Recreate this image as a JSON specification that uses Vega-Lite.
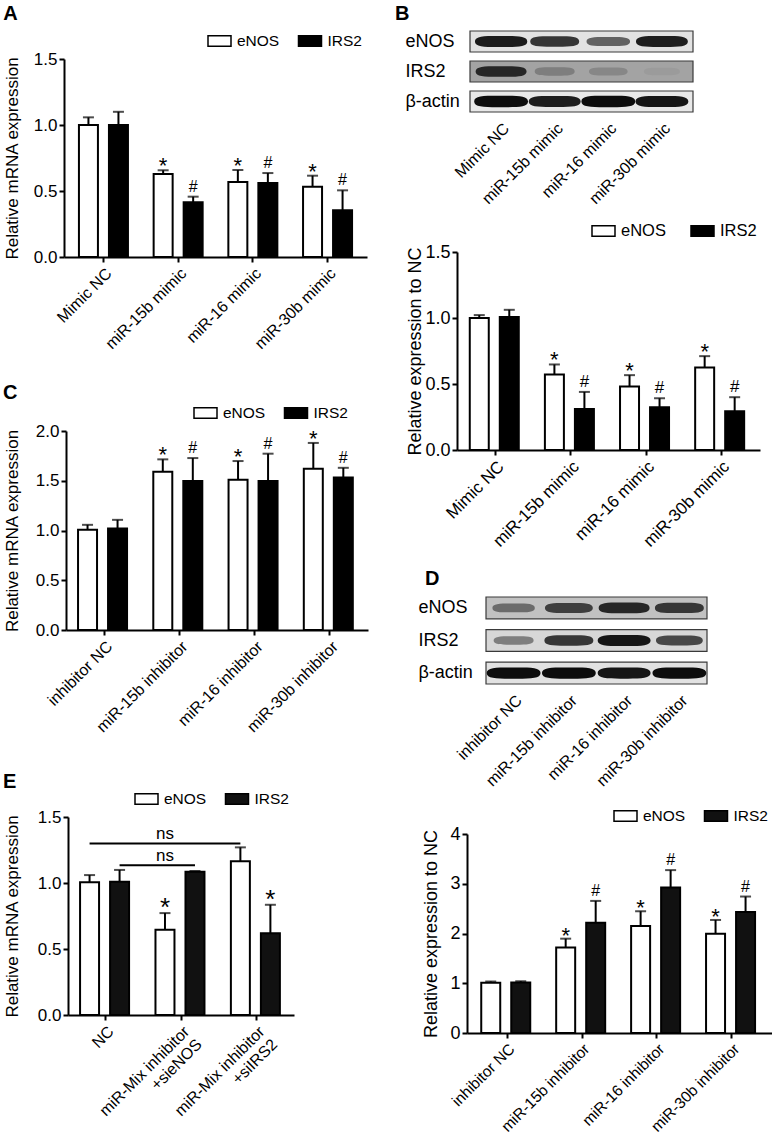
{
  "$schema": "https://vega.github.io/schema/vega-lite/v6.json",
  "background": "white",
  "padding": {"left": 2, "top": 3, "right": 0, "bottom": 0},
  "config": {
    "font": "Liberation Sans",
    "view": {"stroke": null},
    "axis": {"domainColor": "black", "domainWidth": 2, "tickColor": "black", "tickWidth": 2, "tickSize": 5, "labelColor": "black", "titleColor": "black", "grid": false, "labelFont": "Liberation Sans", "titleFont": "Liberation Sans", "titleFontWeight": "normal", "labelFontSize": 17, "titleFontSize": 17, "labelPadding": 2},
    "title": {"font": "Liberation Sans", "fontSize": 20, "fontWeight": "bold", "color": "black", "anchor": "start", "frame": "bounds", "baseline": "alphabetic"},
    "legend": {"symbolType": "M-1,-0.45L1,-0.45L1,0.45L-1,0.45Z", "symbolSize": 529, "labelFontSize": 15.5, "labelFont": "Liberation Sans", "labelColor": "black", "labelOffset": 5, "padding": 0, "symbolStrokeColor": "black", "symbolStrokeWidth": 1.5, "direction": "horizontal", "columnPadding": 15.5, "symbolOpacity": 1}
  },
  "datasets": {
    "A": [
      {"group": "Mimic NC", "gene": "eNOS", "value": 1.0, "err": 1.058, "sig": ""},
      {"group": "Mimic NC", "gene": "IRS2", "value": 1.0, "err": 1.1, "sig": ""},
      {"group": "miR-15b mimic", "gene": "eNOS", "value": 0.629, "err": 0.657, "sig": "*"},
      {"group": "miR-15b mimic", "gene": "IRS2", "value": 0.414, "err": 0.457, "sig": "#"},
      {"group": "miR-16 mimic", "gene": "eNOS", "value": 0.568, "err": 0.659, "sig": "*"},
      {"group": "miR-16 mimic", "gene": "IRS2", "value": 0.56, "err": 0.636, "sig": "#"},
      {"group": "miR-30b mimic", "gene": "eNOS", "value": 0.533, "err": 0.616, "sig": "*"},
      {"group": "miR-30b mimic", "gene": "IRS2", "value": 0.354, "err": 0.505, "sig": "#"}
    ],
    "B": [
      {"group": "Mimic NC", "gene": "eNOS", "value": 1.0, "err": 1.022, "sig": ""},
      {"group": "Mimic NC", "gene": "IRS2", "value": 1.007, "err": 1.062, "sig": ""},
      {"group": "miR-15b mimic", "gene": "eNOS", "value": 0.572, "err": 0.648, "sig": "*"},
      {"group": "miR-15b mimic", "gene": "IRS2", "value": 0.311, "err": 0.44, "sig": "#"},
      {"group": "miR-16 mimic", "gene": "eNOS", "value": 0.481, "err": 0.567, "sig": "*"},
      {"group": "miR-16 mimic", "gene": "IRS2", "value": 0.324, "err": 0.392, "sig": "#"},
      {"group": "miR-30b mimic", "gene": "eNOS", "value": 0.625, "err": 0.711, "sig": "*"},
      {"group": "miR-30b mimic", "gene": "IRS2", "value": 0.293, "err": 0.4, "sig": "#"}
    ],
    "C": [
      {"group": "inhibitor NC", "gene": "eNOS", "value": 1.007, "err": 1.057, "sig": ""},
      {"group": "inhibitor NC", "gene": "IRS2", "value": 1.02, "err": 1.107, "sig": ""},
      {"group": "miR-15b inhibitor", "gene": "eNOS", "value": 1.59, "err": 1.715, "sig": "*"},
      {"group": "miR-15b inhibitor", "gene": "IRS2", "value": 1.497, "err": 1.728, "sig": "#"},
      {"group": "miR-16 inhibitor", "gene": "eNOS", "value": 1.51, "err": 1.698, "sig": "*"},
      {"group": "miR-16 inhibitor", "gene": "IRS2", "value": 1.497, "err": 1.772, "sig": "#"},
      {"group": "miR-30b inhibitor", "gene": "eNOS", "value": 1.62, "err": 1.88, "sig": "*"},
      {"group": "miR-30b inhibitor", "gene": "IRS2", "value": 1.533, "err": 1.63, "sig": "#"}
    ],
    "D": [
      {"group": "inhibitor NC", "gene": "eNOS", "value": 1.008, "err": 1.035, "sig": ""},
      {"group": "inhibitor NC", "gene": "IRS2", "value": 1.015, "err": 1.04, "sig": ""},
      {"group": "miR-15b inhibitor", "gene": "eNOS", "value": 1.72, "err": 1.896, "sig": "*"},
      {"group": "miR-15b inhibitor", "gene": "IRS2", "value": 2.218, "err": 2.655, "sig": "#"},
      {"group": "miR-16 inhibitor", "gene": "eNOS", "value": 2.151, "err": 2.447, "sig": "*"},
      {"group": "miR-16 inhibitor", "gene": "IRS2", "value": 2.924, "err": 3.274, "sig": "#"},
      {"group": "miR-30b inhibitor", "gene": "eNOS", "value": 1.997, "err": 2.272, "sig": "*"},
      {"group": "miR-30b inhibitor", "gene": "IRS2", "value": 2.434, "err": 2.743, "sig": "#"}
    ],
    "E": [
      {"group": "NC", "gene": "eNOS", "value": 1.005, "err": 1.06, "sig": ""},
      {"group": "NC", "gene": "IRS2", "value": 1.01, "err": 1.099, "sig": ""},
      {"group": "miR-Mix inhibitor +sieNOS", "gene": "eNOS", "value": 0.646, "err": 0.772, "sig": "*"},
      {"group": "miR-Mix inhibitor +sieNOS", "gene": "IRS2", "value": 1.086, "err": 1.091, "sig": ""},
      {"group": "miR-Mix inhibitor +siIRS2", "gene": "eNOS", "value": 1.165, "err": 1.27, "sig": ""},
      {"group": "miR-Mix inhibitor +siIRS2", "gene": "IRS2", "value": 0.62, "err": 0.835, "sig": "*"}
    ],
    "Ens": [
      {"line": 1, "group": "NC", "gene": "eNOS", "level": 1.3},
      {"line": 1, "group": "miR-Mix inhibitor +siIRS2", "gene": "eNOS", "level": 1.3},
      {"line": 2, "group": "NC", "gene": "IRS2", "level": 1.135},
      {"line": 2, "group": "miR-Mix inhibitor +sieNOS", "gene": "IRS2", "level": 1.135}
    ],
    "Enstext": [
      {"group": "miR-Mix inhibitor +sieNOS", "gene": "eNOS", "level": 1.3, "label": "ns"},
      {"group": "miR-Mix inhibitor +sieNOS", "gene": "eNOS", "level": 1.135, "label": "ns"}
    ],
    "Brows": [
      {"protein": "eNOS", "bg": 0.1},
      {"protein": "IRS2", "bg": 0.33},
      {"protein": "β-actin", "bg": 0.08}
    ],
    "Bblot": [
      {"protein": "eNOS", "lane": "Mimic NC", "intensity": 0.92},
      {"protein": "eNOS", "lane": "miR-15b mimic", "intensity": 0.75},
      {"protein": "eNOS", "lane": "miR-16 mimic", "intensity": 0.5},
      {"protein": "eNOS", "lane": "miR-30b mimic", "intensity": 0.9},
      {"protein": "IRS2", "lane": "Mimic NC", "intensity": 0.85},
      {"protein": "IRS2", "lane": "miR-15b mimic", "intensity": 0.35},
      {"protein": "IRS2", "lane": "miR-16 mimic", "intensity": 0.3},
      {"protein": "IRS2", "lane": "miR-30b mimic", "intensity": 0.2},
      {"protein": "β-actin", "lane": "Mimic NC", "intensity": 1.0},
      {"protein": "β-actin", "lane": "miR-15b mimic", "intensity": 0.9},
      {"protein": "β-actin", "lane": "miR-16 mimic", "intensity": 1.0},
      {"protein": "β-actin", "lane": "miR-30b mimic", "intensity": 0.95}
    ],
    "Drows": [
      {"protein": "eNOS", "bg": 0.22},
      {"protein": "IRS2", "bg": 0.14},
      {"protein": "β-actin", "bg": 0.1}
    ],
    "Dblot": [
      {"protein": "eNOS", "lane": "inhibitor NC", "intensity": 0.45},
      {"protein": "eNOS", "lane": "miR-15b inhibitor", "intensity": 0.7},
      {"protein": "eNOS", "lane": "miR-16 inhibitor", "intensity": 0.85},
      {"protein": "eNOS", "lane": "miR-30b inhibitor", "intensity": 0.75},
      {"protein": "IRS2", "lane": "inhibitor NC", "intensity": 0.35},
      {"protein": "IRS2", "lane": "miR-15b inhibitor", "intensity": 0.75},
      {"protein": "IRS2", "lane": "miR-16 inhibitor", "intensity": 0.95},
      {"protein": "IRS2", "lane": "miR-30b inhibitor", "intensity": 0.65},
      {"protein": "β-actin", "lane": "inhibitor NC", "intensity": 1.0},
      {"protein": "β-actin", "lane": "miR-15b inhibitor", "intensity": 1.0},
      {"protein": "β-actin", "lane": "miR-16 inhibitor", "intensity": 0.95},
      {"protein": "β-actin", "lane": "miR-30b inhibitor", "intensity": 1.0}
    ],
    "empty": []
  },
  "concat": [
    {
      "vconcat": [
        {"vconcat": [
          {"width": 1, "height": 1, "data": {"name": "empty"}, "mark": "point"},
          {"hconcat": [
            {"width": 1, "height": 1, "data": {"name": "empty"}, "mark": "point"},
            {
              "data": {"name": "A"},
              "width": 303, "height": 198,
              "title": {"text": "A", "offset": 4.5},
              "encoding": {
                "x": {"field": "group", "type": "nominal", "sort": ["Mimic NC", "miR-15b mimic", "miR-16 mimic", "miR-30b mimic"], "scale": {"paddingInner": 0.344, "paddingOuter": 0.2}, "axis": {"title": null, "labelAngle": -45, "labelFontSize": 16, "labelPadding": 3, "minExtent": 126}},
                "xOffset": {"field": "gene", "type": "nominal", "sort": ["eNOS", "IRS2"], "scale": {"paddingInner": 0.367, "paddingOuter": 0}}
              },
              "layer": [
                {"mark": {"type": "bar", "stroke": "black", "strokeWidth": 2},
                 "encoding": {
                   "y": {"field": "value", "type": "quantitative", "scale": {"domain": [0, 1.5], "nice": false}, "axis": {"title": "Relative mRNA expression", "values": [0, 0.5, 1, 1.5], "format": ".1f", "minExtent": 30, "titlePadding": 12}},
                   "fill": {"field": "gene", "type": "nominal", "sort": ["eNOS", "IRS2"], "scale": {"domain": ["eNOS", "IRS2"], "range": ["#ffffff", "#000000"]}, "legend": {"title": null, "orient": "none", "legendX": 143, "legendY": -30.5, "encode": {"symbols": {"update": {"stroke": {"value": "black"}, "strokeWidth": {"value": 1.5}}}}}}
                 }},
                {"mark": {"type": "rule", "color": "black", "strokeWidth": 2}, "encoding": {"y": {"field": "value", "type": "quantitative"}, "y2": {"field": "err"}}},
                {"mark": {"type": "tick", "color": "black", "size": 11, "thickness": 2}, "encoding": {"y": {"field": "err", "type": "quantitative"}}},
                {"transform": [{"filter": "datum.sig == '*'"}], "mark": {"type": "text", "fontSize": 22, "baseline": "alphabetic", "dy": 3, "color": "black"}, "encoding": {"y": {"field": "err", "type": "quantitative"}, "text": {"field": "sig"}}},
                {"transform": [{"filter": "datum.sig == '#'"}], "mark": {"type": "text", "fontSize": 16, "baseline": "alphabetic", "dy": -5, "color": "black"}, "encoding": {"y": {"field": "err", "type": "quantitative"}, "text": {"field": "sig"}}}
              ]
            }
          ], "spacing": 0, "resolve": {"scale": {"fill": "independent", "size": "independent"}, "legend": {"fill": "independent", "size": "independent"}}}
        ], "spacing": 0, "resolve": {"scale": {"fill": "independent", "size": "independent"}, "legend": {"fill": "independent", "size": "independent"}}},
        {"hconcat": [
          {"width": 1, "height": 1, "data": {"name": "empty"}, "mark": "point"},
          {
            "data": {"name": "C"},
            "width": 302, "height": 199,
            "title": {"text": "C", "offset": -2.5},
            "encoding": {
              "x": {"field": "group", "type": "nominal", "sort": ["inhibitor NC", "miR-15b inhibitor", "miR-16 inhibitor", "miR-30b inhibitor"], "scale": {"paddingInner": 0.307, "paddingOuter": 0.16}, "axis": {"title": null, "labelAngle": -45, "labelFontSize": 16, "labelPadding": 3, "minExtent": 142}},
              "xOffset": {"field": "gene", "type": "nominal", "sort": ["eNOS", "IRS2"], "scale": {"paddingInner": 0.39, "paddingOuter": 0}}
            },
            "layer": [
              {"mark": {"type": "bar", "stroke": "black", "strokeWidth": 2},
               "encoding": {
                 "y": {"field": "value", "type": "quantitative", "scale": {"domain": [0, 2], "nice": false}, "axis": {"title": "Relative mRNA expression", "values": [0, 0.5, 1, 1.5, 2], "format": ".1f", "minExtent": 33, "titlePadding": 12}},
                 "fill": {"field": "gene", "type": "nominal", "sort": ["eNOS", "IRS2"], "scale": {"domain": ["eNOS", "IRS2"], "range": ["#ffffff", "#000000"]}, "legend": {"title": null, "orient": "none", "legendX": 127, "legendY": -30.5, "encode": {"symbols": {"update": {"stroke": {"value": "black"}, "strokeWidth": {"value": 1.5}}}}}}
               }},
              {"mark": {"type": "rule", "color": "black", "strokeWidth": 2}, "encoding": {"y": {"field": "value", "type": "quantitative"}, "y2": {"field": "err"}}},
              {"mark": {"type": "tick", "color": "black", "size": 11, "thickness": 2}, "encoding": {"y": {"field": "err", "type": "quantitative"}}},
              {"transform": [{"filter": "datum.sig == '*'"}], "mark": {"type": "text", "fontSize": 22, "baseline": "alphabetic", "dy": 3, "color": "black"}, "encoding": {"y": {"field": "err", "type": "quantitative"}, "text": {"field": "sig"}}},
              {"transform": [{"filter": "datum.sig == '#'"}], "mark": {"type": "text", "fontSize": 16, "baseline": "alphabetic", "dy": -5, "color": "black"}, "encoding": {"y": {"field": "err", "type": "quantitative"}, "text": {"field": "sig"}}}
            ]
          }
        ], "spacing": 0, "resolve": {"scale": {"fill": "independent", "size": "independent"}, "legend": {"fill": "independent", "size": "independent"}}},
        {"hconcat": [
          {"width": 1, "height": 1, "data": {"name": "empty"}, "mark": "point"},
          {
            "data": {"name": "E"},
            "width": 226, "height": 198,
            "title": {"text": "E", "offset": -5.5},
            "encoding": {
              "x": {"field": "group", "type": "nominal", "sort": ["NC", "miR-Mix inhibitor +sieNOS", "miR-Mix inhibitor +siIRS2"], "scale": {"paddingInner": 0.323, "paddingOuter": 0.16}, "axis": {"title": null, "labelAngle": -45, "labelFontSize": 16, "labelPadding": 3, "labelLineHeight": 18, "labelExpr": "datum.label == 'NC' ? 'NC' : split(replace(datum.label, ' +', '|+'), '|')"}},
              "xOffset": {"field": "gene", "type": "nominal", "sort": ["eNOS", "IRS2"], "scale": {"paddingInner": 0.39, "paddingOuter": 0}}
            },
            "layer": [
              {"mark": {"type": "bar", "stroke": "black", "strokeWidth": 2},
               "encoding": {
                 "y": {"field": "value", "type": "quantitative", "scale": {"domain": [0, 1.5], "nice": false}, "axis": {"title": "Relative mRNA expression", "values": [0, 0.5, 1, 1.5], "format": ".1f", "minExtent": 35, "titlePadding": 12}},
                 "fill": {"field": "gene", "type": "nominal", "sort": ["eNOS", "IRS2"], "scale": {"domain": ["eNOS", "IRS2"], "range": ["#ffffff", "#111111"]}, "legend": {"title": null, "orient": "none", "legendX": 66, "legendY": -30.5, "encode": {"symbols": {"update": {"stroke": {"value": "black"}, "strokeWidth": {"value": 1.5}}}}}}
               }},
              {"mark": {"type": "rule", "color": "black", "strokeWidth": 2}, "encoding": {"y": {"field": "value", "type": "quantitative"}, "y2": {"field": "err"}}},
              {"mark": {"type": "tick", "color": "black", "size": 11, "thickness": 2}, "encoding": {"y": {"field": "err", "type": "quantitative"}}},
              {"transform": [{"filter": "datum.sig == '*'"}], "mark": {"type": "text", "fontSize": 26, "baseline": "alphabetic", "dy": 3, "color": "black"}, "encoding": {"y": {"field": "err", "type": "quantitative"}, "text": {"field": "sig"}}},
              {"data": {"name": "Ens"}, "mark": {"type": "line", "color": "black", "strokeWidth": 2}, "encoding": {"y": {"field": "level", "type": "quantitative"}, "detail": {"field": "line", "type": "nominal"}}},
              {"data": {"name": "Enstext"}, "mark": {"type": "text", "fontSize": 17, "baseline": "alphabetic", "dy": -4, "color": "black"}, "encoding": {"y": {"field": "level", "type": "quantitative"}, "text": {"field": "label"}}}
            ]
          }
        ], "spacing": 0, "resolve": {"scale": {"fill": "independent", "size": "independent"}, "legend": {"fill": "independent", "size": "independent"}}}
      ],
      "spacing": 0,
      "resolve": {"scale": {"fill": "independent", "size": "independent"}, "legend": {"fill": "independent", "size": "independent"}}
    },
    {
      "vconcat": [
        {"vconcat": [
          {"width": 1, "height": 1, "data": {"name": "empty"}, "mark": "point"},
          {"hconcat": [
            {"width": 1, "height": 1, "data": {"name": "empty"}, "mark": "point"},
            {
              "width": 223, "height": 81,
              "title": {"text": "B", "offset": 6},
              "layer": [
                {"data": {"name": "Brows"},
                 "mark": {"type": "rect", "stroke": "#3a3a3a", "strokeWidth": 1.2},
                 "encoding": {
                   "y": {"field": "protein", "type": "nominal", "sort": ["eNOS", "IRS2", "β-actin"], "scale": {"type": "band", "paddingInner": 0.3, "paddingOuter": 0}, "axis": {"title": null, "domain": false, "ticks": false, "tickSize": 0, "labelAlign": "left", "labelPadding": 65, "labelFontSize": 18, "minExtent": 75}},
                   "x": {"value": 0}, "x2": {"value": "width"},
                   "fill": {"field": "bg", "type": "quantitative", "scale": {"domain": [0, 1], "range": ["#ffffff", "#000000"]}, "legend": null}
                 }},
                {"data": {"name": "Bblot"},
                 "mark": {"type": "point", "shape": "M -1 0 C -1 -0.22 -0.6 -0.21 0 -0.21 C 0.6 -0.21 1 -0.22 1 0 C 1 0.22 0.6 0.21 0 0.21 C -0.6 0.21 -1 0.22 -1 0 Z", "filled": true, "opacity": 1, "strokeWidth": 0},
                 "encoding": {
                   "x": {"field": "lane", "type": "nominal", "sort": ["Mimic NC", "miR-15b mimic", "miR-16 mimic", "miR-30b mimic"], "scale": {"type": "band", "paddingInner": 0, "paddingOuter": 0.08}, "axis": {"title": null, "domain": false, "ticks": false, "tickSize": 0, "labelAngle": -45, "labelFontSize": 16, "labelPadding": 8, "minExtent": 106}},
                   "y": {"field": "protein", "type": "nominal", "sort": ["eNOS", "IRS2", "β-actin"], "scale": {"type": "band"}},
                   "size": {"field": "intensity", "type": "quantitative", "scale": {"domain": [0, 1], "range": [900, 2900]}, "legend": null},
                   "fill": {"field": "intensity", "type": "quantitative", "scale": {"domain": [0, 1], "range": ["#c4c4c4", "#0d0d0d"]}, "legend": null}
                 }}
              ],
              "resolve": {"scale": {"fill": "independent"}}
            }
          ], "spacing": 0, "resolve": {"scale": {"fill": "independent", "size": "independent"}, "legend": {"fill": "independent", "size": "independent"}}}
        ], "spacing": 0, "resolve": {"scale": {"fill": "independent", "size": "independent"}, "legend": {"fill": "independent", "size": "independent"}}},
        {"hconcat": [
          {"width": 12, "height": 1, "data": {"name": "empty"}, "mark": "point"},
          {
            "data": {"name": "B"},
            "width": 303, "height": 198,
            "encoding": {
              "x": {"field": "group", "type": "nominal", "sort": ["Mimic NC", "miR-15b mimic", "miR-16 mimic", "miR-30b mimic"], "scale": {"paddingInner": 0.307, "paddingOuter": 0.17}, "axis": {"title": null, "labelAngle": -45, "labelFontSize": 17, "labelPadding": 3, "minExtent": 119}},
              "xOffset": {"field": "gene", "type": "nominal", "sort": ["eNOS", "IRS2"], "scale": {"paddingInner": 0.39, "paddingOuter": 0}}
            },
            "layer": [
              {"mark": {"type": "bar", "stroke": "black", "strokeWidth": 2},
               "encoding": {
                 "y": {"field": "value", "type": "quantitative", "scale": {"domain": [0, 1.5], "nice": false}, "axis": {"title": "Relative expression to NC", "titleFontSize": 18, "labelFontSize": 18, "values": [0, 0.5, 1, 1.5], "format": ".1f", "minExtent": 32, "titlePadding": 0}},
                 "fill": {"field": "gene", "type": "nominal", "sort": ["eNOS", "IRS2"], "scale": {"domain": ["eNOS", "IRS2"], "range": ["#ffffff", "#000000"]}, "legend": {"title": null, "orient": "none", "legendX": 134, "legendY": -33.5, "labelFontSize": 16.5, "columnPadding": 22, "encode": {"symbols": {"update": {"stroke": {"value": "black"}, "strokeWidth": {"value": 1.5}}}}}}
               }},
              {"mark": {"type": "rule", "color": "black", "strokeWidth": 2}, "encoding": {"y": {"field": "value", "type": "quantitative"}, "y2": {"field": "err"}}},
              {"mark": {"type": "tick", "color": "black", "size": 11, "thickness": 2}, "encoding": {"y": {"field": "err", "type": "quantitative"}}},
              {"transform": [{"filter": "datum.sig == '*'"}], "mark": {"type": "text", "fontSize": 22, "baseline": "alphabetic", "dy": 3, "color": "black"}, "encoding": {"y": {"field": "err", "type": "quantitative"}, "text": {"field": "sig"}}},
              {"transform": [{"filter": "datum.sig == '#'"}], "mark": {"type": "text", "fontSize": 17, "baseline": "alphabetic", "dy": -5, "color": "black"}, "encoding": {"y": {"field": "err", "type": "quantitative"}, "text": {"field": "sig"}}}
            ]
          }
        ], "spacing": 0, "resolve": {"scale": {"fill": "independent", "size": "independent"}, "legend": {"fill": "independent", "size": "independent"}}},
        {"hconcat": [
          {"width": 24, "height": 1, "data": {"name": "empty"}, "mark": "point"},
          {
            "width": 221, "height": 87,
            "title": {"text": "D", "offset": 7, "dx": 7},
            "layer": [
              {"data": {"name": "Drows"},
               "mark": {"type": "rect", "stroke": "#3a3a3a", "strokeWidth": 1.2},
               "encoding": {
                 "y": {"field": "protein", "type": "nominal", "sort": ["eNOS", "IRS2", "β-actin"], "scale": {"type": "band", "paddingInner": 0.33, "paddingOuter": 0}, "axis": {"title": null, "domain": false, "ticks": false, "tickSize": 0, "labelAlign": "left", "labelPadding": 68, "labelFontSize": 18, "minExtent": 68}},
                 "x": {"value": 0}, "x2": {"value": "width"},
                 "fill": {"field": "bg", "type": "quantitative", "scale": {"domain": [0, 1], "range": ["#ffffff", "#000000"]}, "legend": null}
               }},
              {"data": {"name": "Dblot"},
               "mark": {"type": "point", "shape": "M -1 0 C -1 -0.22 -0.6 -0.21 0 -0.21 C 0.6 -0.21 1 -0.22 1 0 C 1 0.22 0.6 0.21 0 0.21 C -0.6 0.21 -1 0.22 -1 0 Z", "filled": true, "opacity": 1, "strokeWidth": 0},
               "encoding": {
                 "x": {"field": "lane", "type": "nominal", "sort": ["inhibitor NC", "miR-15b inhibitor", "miR-16 inhibitor", "miR-30b inhibitor"], "scale": {"type": "band", "paddingInner": 0, "paddingOuter": 0}, "axis": {"title": null, "domain": false, "ticks": false, "tickSize": 0, "labelAngle": -45, "labelFontSize": 16, "labelPadding": 8, "minExtent": 119}},
                 "y": {"field": "protein", "type": "nominal", "sort": ["eNOS", "IRS2", "β-actin"], "scale": {"type": "band"}},
                 "size": {"field": "intensity", "type": "quantitative", "scale": {"domain": [0, 1], "range": [900, 2900]}, "legend": null},
                 "fill": {"field": "intensity", "type": "quantitative", "scale": {"domain": [0, 1], "range": ["#c4c4c4", "#0d0d0d"]}, "legend": null}
               }}
            ],
            "resolve": {"scale": {"fill": "independent"}}
          }
        ], "spacing": 0, "resolve": {"scale": {"fill": "independent", "size": "independent"}, "legend": {"fill": "independent", "size": "independent"}}},
        {"hconcat": [
          {"width": 28, "height": 1, "data": {"name": "empty"}, "mark": "point"},
          {
            "data": {"name": "D"},
            "width": 305, "height": 199,
            "encoding": {
              "x": {"field": "group", "type": "nominal", "sort": ["inhibitor NC", "miR-15b inhibitor", "miR-16 inhibitor", "miR-30b inhibitor"], "scale": {"paddingInner": 0.31, "paddingOuter": 0.19}, "axis": {"title": null, "labelAngle": -45, "labelFontSize": 15.5, "labelPadding": 3}},
              "xOffset": {"field": "gene", "type": "nominal", "sort": ["eNOS", "IRS2"], "scale": {"paddingInner": 0.39, "paddingOuter": 0}}
            },
            "layer": [
              {"mark": {"type": "bar", "stroke": "black", "strokeWidth": 2},
               "encoding": {
                 "y": {"field": "value", "type": "quantitative", "scale": {"domain": [0, 4], "nice": false}, "axis": {"title": "Relative expression to NC", "titleFontSize": 18, "labelFontSize": 18, "values": [0, 1, 2, 3, 4], "format": "d", "minExtent": 18, "titlePadding": 9}},
                 "fill": {"field": "gene", "type": "nominal", "sort": ["eNOS", "IRS2"], "scale": {"domain": ["eNOS", "IRS2"], "range": ["#ffffff", "#111111"]}, "legend": {"title": null, "orient": "none", "legendX": 146, "legendY": -30.5, "encode": {"symbols": {"update": {"stroke": {"value": "black"}, "strokeWidth": {"value": 1.5}}}}}}
               }},
              {"mark": {"type": "rule", "color": "black", "strokeWidth": 2}, "encoding": {"y": {"field": "value", "type": "quantitative"}, "y2": {"field": "err"}}},
              {"mark": {"type": "tick", "color": "black", "size": 11, "thickness": 2}, "encoding": {"y": {"field": "err", "type": "quantitative"}}},
              {"transform": [{"filter": "datum.sig == '*'"}], "mark": {"type": "text", "fontSize": 22, "baseline": "alphabetic", "dy": 4, "color": "black"}, "encoding": {"y": {"field": "err", "type": "quantitative"}, "text": {"field": "sig"}}},
              {"transform": [{"filter": "datum.sig == '#'"}], "mark": {"type": "text", "fontSize": 16, "baseline": "alphabetic", "dy": -5, "color": "black"}, "encoding": {"y": {"field": "err", "type": "quantitative"}, "text": {"field": "sig"}}}
            ]
          }
        ], "spacing": 0, "resolve": {"scale": {"fill": "independent", "size": "independent"}, "legend": {"fill": "independent", "size": "independent"}}}
      ],
      "spacing": 0,
      "resolve": {"scale": {"fill": "independent", "size": "independent"}, "legend": {"fill": "independent", "size": "independent"}}
    }
  ],
  "columns": 2,
  "spacing": 26,
  "resolve": {"scale": {"fill": "independent", "size": "independent"}, "legend": {"fill": "independent", "size": "independent"}}
}
